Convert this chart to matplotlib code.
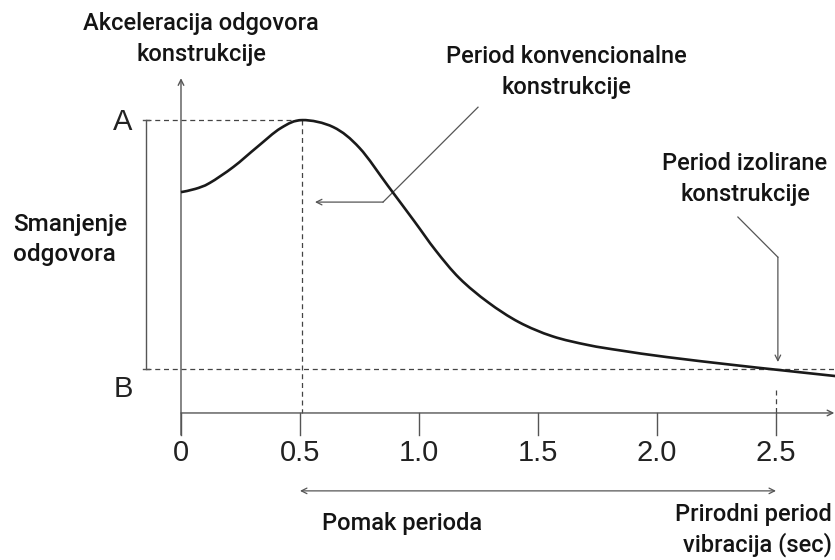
import numpy as np
import matplotlib.pyplot as plt
from matplotlib.path import Path
from matplotlib.patches import PathPatch

# response spectrum curve (A level = 1.0)
period = [0.0, 0.06, 0.12, 0.22, 0.32, 0.42, 0.51, 0.64, 0.75, 0.87,
          0.98, 1.07, 1.17, 1.29, 1.42, 1.56, 1.71, 1.85, 2.04, 2.32, 2.51, 2.75]
accel = [0.754, 0.765, 0.785, 0.840, 0.908, 0.973, 1.0, 0.976, 0.905, 0.775,
         0.655, 0.555, 0.46, 0.378, 0.31, 0.262, 0.232, 0.213, 0.191, 0.164, 0.147, 0.126]

tick_vals = [0, 0.5, 1.0, 1.5, 2.0, 2.5]
tick_labels = ["0", "0.5", "1.0", "1.5", "2.0", "2.5"]

level_a = 1.0
level_b = 0.15
conv_period = 0.51
iso_period = 2.5

txt_font = ["Roboto", "DejaVu Sans"]
num_font = ["Liberation Sans", "DejaVu Sans"]
txt_col = "#141414"
ax_col = "#555555"


def smooth_path(xs, ys):
    # catmull-rom through the read points, drawn as cubic beziers
    pts = np.column_stack([xs, ys])
    verts = [pts[0]]
    codes = [Path.MOVETO]
    for i in range(len(pts) - 1):
        p0 = pts[i - 1] if i > 0 else pts[i]
        p1 = pts[i]
        p2 = pts[i + 1]
        p3 = pts[i + 2] if i + 2 < len(pts) else pts[i + 1]
        verts += [p1 + (p2 - p0) / 6, p2 - (p3 - p1) / 6, p2]
        codes += [Path.CURVE4] * 3
    return Path(verts, codes)


fig = plt.figure(figsize=(8.35, 5.6), dpi=100)
ax = fig.add_axes([0, 0, 1, 1])
ax.set_xlim(-0.7605, 2.748)
ax.set_ylim(-0.502, 1.41)
ax.axis("off")

# curve
ax.add_patch(PathPatch(smooth_path(period, accel), fill=False, ec="#1a1a1a",
                       lw=1.9, zorder=5))

# axes with arrows
arr = dict(arrowstyle="->", color=ax_col, lw=1.0, shrinkA=0, shrinkB=0,
           mutation_scale=10)
ax.annotate("", xy=(0, 1.143), xytext=(0, -0.075), arrowprops=arr)
ax.annotate("", xy=(2.745, 0), xytext=(0, 0), arrowprops=arr)

# ticks + labels
for v, lab in zip(tick_vals, tick_labels):
    ax.plot([v, v], [0, -0.075], color=ax_col, lw=1.0)
    ax.text(v, -0.137, lab, ha="center", va="center", fontsize=21,
            family=num_font, color="#222222")

# dashed guides
dash = dict(color="#444444", lw=0.9, ls=(0, (4, 3)))
ax.plot([-0.147, conv_period], [level_a, level_a], **dash)
ax.plot([conv_period, conv_period], [level_a, 0], **dash)
ax.plot([-0.147, 2.748], [level_b, level_b], **dash)
ax.plot([iso_period, iso_period], [0.078, 0], **dash)

# bracket between A and B
ax.plot([-0.147, -0.147], [level_b, level_a], color=ax_col, lw=1.0)
ax.plot([-0.16, -0.134], [level_a, level_a], color=ax_col, lw=1.0)
ax.plot([-0.16, -0.134], [level_b, level_b], color=ax_col, lw=1.0)
ax.text(-0.244, level_a - 0.007, "A", ha="center", va="center", fontsize=21,
        family=num_font, color="#222222")
ax.text(-0.244, 0.082, "B", ha="center", va="center", fontsize=21,
        family=num_font, color="#222222")

# leader lines
lead = dict(color="#555555", lw=0.9)
ax.plot([1.248, 0.849], [1.044, 0.720], **lead)
ax.annotate("", xy=(0.563, 0.720), xytext=(0.849, 0.720),
            arrowprops=dict(arr, color="#555555", lw=0.9))
ax.plot([2.340, 2.508], [0.669, 0.532], **lead)
ax.annotate("", xy=(2.508, 0.174), xytext=(2.508, 0.532),
            arrowprops=dict(arr, color="#555555", lw=0.9))

# period shift arrow
ax.annotate("", xy=(2.5, -0.266), xytext=(0.5, -0.266),
            arrowprops=dict(arrowstyle="<->", color=ax_col, lw=0.9,
                            shrinkA=0, shrinkB=0, mutation_scale=10))

# texts
tk = dict(fontsize=17, family=txt_font, weight="medium", color=txt_col,
          linespacing=1.42)
ax.text(0.084, 1.276, "Akceleracija odgovora\nkonstrukcije", ha="center",
        va="center", multialignment="center", **tk)
ax.text(1.618, 1.164, "Period konvencionalne\nkonstrukcije", ha="center",
        va="center", multialignment="center", **tk)
ax.text(2.37, 0.799, "Period izolirane\nkonstrukcije", ha="center",
        va="center", multialignment="center", **tk)
ax.text(-0.706, 0.592, "Smanjenje\nodgovora", ha="left", va="center",
        multialignment="left", **dict(tk, fontsize=17.5, linespacing=1.38))
ax.text(0.929, -0.379, "Pomak perioda", ha="center", va="center", **tk)
ax.text(2.735, -0.399, "Prirodni period\nvibracija (sec)", ha="right",
        va="center", multialignment="right", **dict(tk, linespacing=1.3))

fig.savefig("out.png", dpi=100)
